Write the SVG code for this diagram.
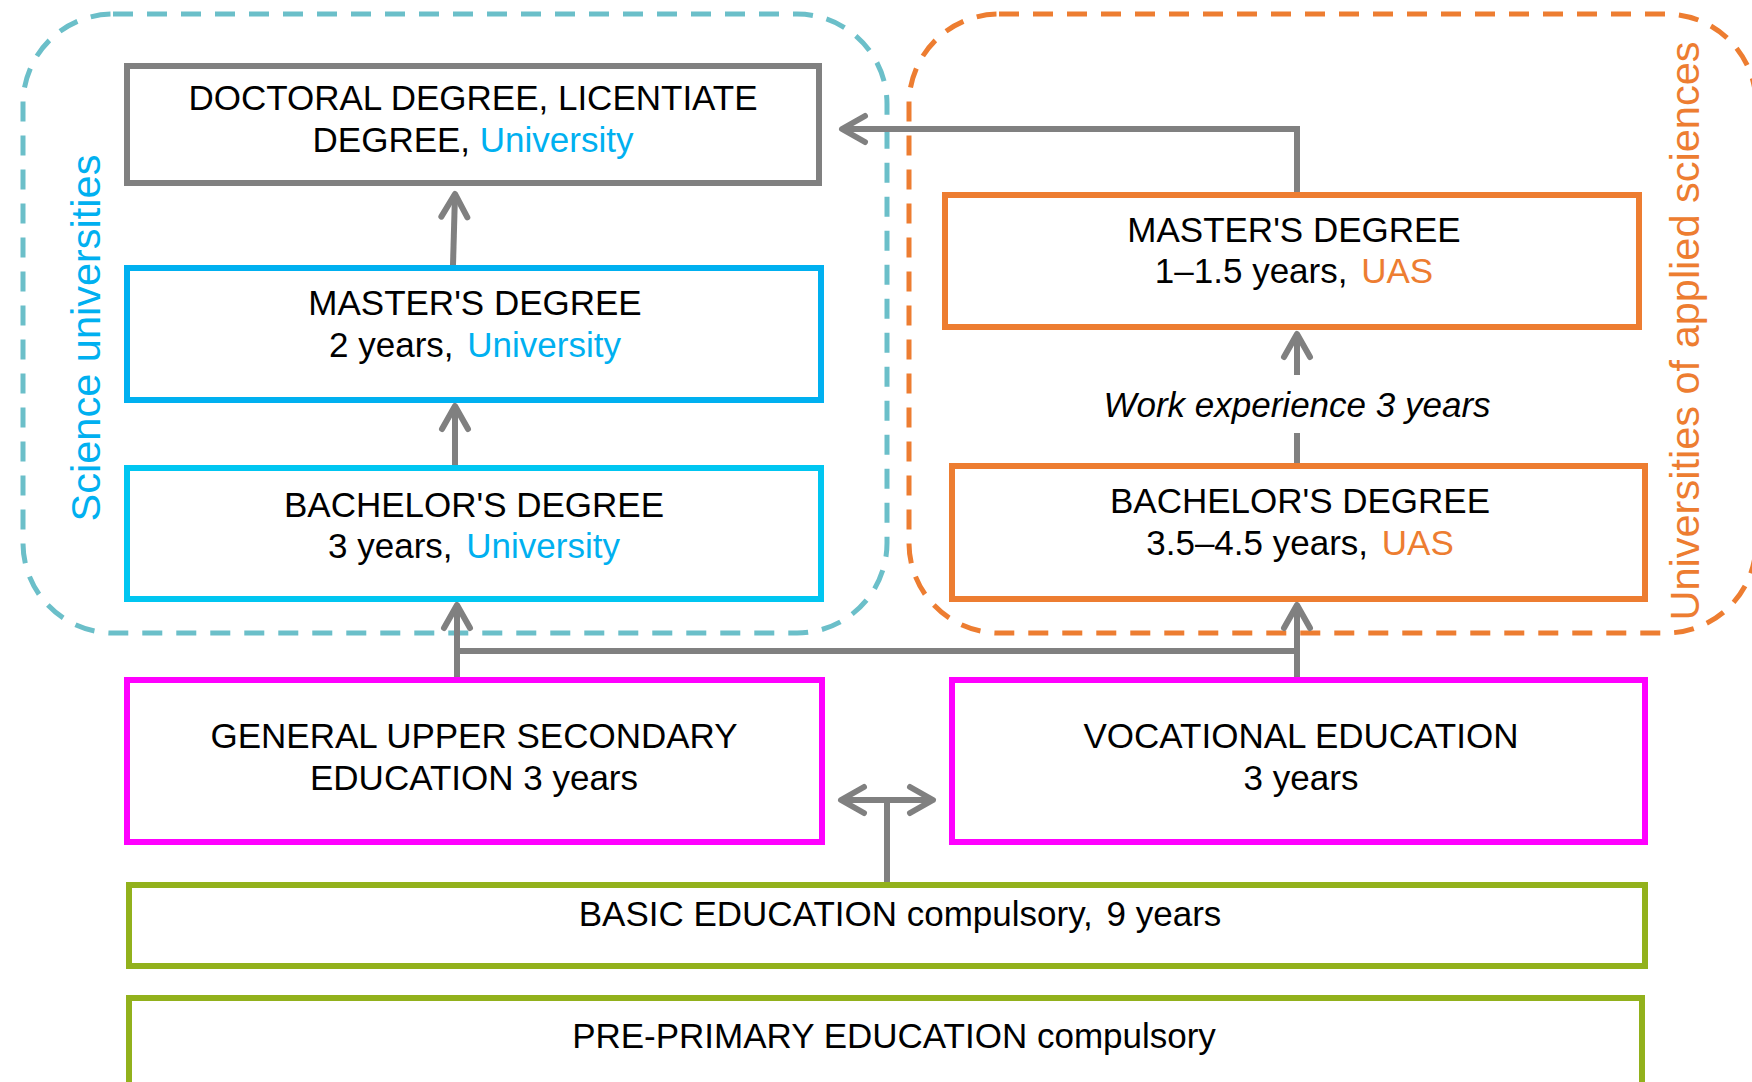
<svg xmlns="http://www.w3.org/2000/svg" width="1752" height="1082" viewBox="0 0 1752 1082">
<style>
text{font-family:"Liberation Sans",Arial,sans-serif;font-size:35px;fill:#000;text-anchor:middle}
.u{fill:#00B0F0}
.o{fill:#ED7D31}
.box{fill:#fff;stroke-width:6}
.gray{stroke:#808080}
.blue{stroke:#00B0F0}
.cyan{stroke:#00C6F1}
.orange{stroke:#ED7D31}
.mag{stroke:#FF00FF}
.green{stroke:#92B11C}
.cn{fill:none;stroke:#808080;stroke-width:6}
.lab{font-size:41.5px}
</style>
<defs>
<marker id="ah" viewBox="-30 -16 34 32" markerUnits="userSpaceOnUse" markerWidth="34" markerHeight="32" refX="0" refY="0" orient="auto-start-reverse" overflow="visible">
<path d="M-23 -13 L0 0 L-23 13" fill="none" stroke="#808080" stroke-width="6" stroke-linecap="round" stroke-linejoin="round"/>
</marker>
</defs>
<rect width="1752" height="1082" fill="#fff"/>
<g id="containers">
<rect id="science-universities" x="23" y="14" width="864" height="619" rx="90" fill="none" stroke="#6BBFC9" stroke-width="5" stroke-dasharray="20 14"/>
<rect id="applied-sciences" x="909" y="14" width="847" height="619" rx="90" fill="none" stroke="#ED7D31" stroke-width="5" stroke-dasharray="20 14"/>
<text class="lab u" transform="translate(100,338) rotate(-90)">Science universities</text>
<text class="lab o" transform="translate(1699,331) rotate(-90)" font-size="41">Universities of applied sciences</text>
</g>
<g id="connectors">
<path class="cn" d="M453 265 L455 194" marker-end="url(#ah)"/>
<path class="cn" d="M455 465 L455 406" marker-end="url(#ah)"/>
<path class="cn" d="M457 677 L457 605" marker-end="url(#ah)"/>
<path class="cn" d="M457 651 L1297 651"/>
<path class="cn" d="M1297 677 L1297 605" marker-end="url(#ah)"/>
<path class="cn" d="M1297 192 L1297 129 L842 129" marker-end="url(#ah)"/>
<path class="cn" d="M1297 375 L1297 334" marker-end="url(#ah)"/>
<path class="cn" d="M1297 433 L1297 463"/>
<path class="cn" d="M887 882 L887 800"/>
<path class="cn" d="M841 800 L933 800" marker-start="url(#ah)" marker-end="url(#ah)"/>
<text x="1297" y="417" font-style="italic">Work experience  3 years</text>
</g>
<g id="doctoral">
<rect class="box gray" x="127" y="66" width="692" height="117"/>
<text x="473" y="110">DOCTORAL DEGREE, LICENTIATE</text>
<text x="473" y="152">DEGREE, <tspan class="u">University</tspan></text>
</g>
<g id="master-university">
<rect class="box blue" x="127" y="268" width="694" height="132"/>
<text x="475" y="315">MASTER'S DEGREE</text>
<text x="475" y="357">2 years, <tspan class="u" dx="4">University</tspan></text>
</g>
<g id="bachelor-university">
<rect class="box cyan" x="127" y="468" width="694" height="131"/>
<text x="474" y="517">BACHELOR'S DEGREE</text>
<text x="474" y="558">3 years, <tspan class="u" dx="4">University</tspan></text>
</g>
<g id="master-uas">
<rect class="box orange" x="945" y="195" width="694" height="132"/>
<text x="1294" y="242">MASTER'S DEGREE</text>
<text x="1294" y="283">1–1.5 years, <tspan class="o" dx="4">UAS</tspan></text>
</g>
<g id="bachelor-uas">
<rect class="box orange" x="952" y="466" width="693" height="133"/>
<text x="1300" y="513">BACHELOR'S DEGREE</text>
<text x="1300" y="555">3.5–4.5 years, <tspan class="o" dx="4">UAS</tspan></text>
</g>
<g id="general-upper-secondary">
<rect class="box mag" x="127" y="680" width="695" height="162"/>
<text x="474" y="748">GENERAL UPPER SECONDARY</text>
<text x="474" y="790">EDUCATION 3 years</text>
</g>
<g id="vocational">
<rect class="box mag" x="952" y="680" width="693" height="162"/>
<text x="1301" y="748">VOCATIONAL EDUCATION</text>
<text x="1301" y="790">3 years</text>
</g>
<g id="basic-education">
<rect class="box green" x="129" y="885" width="1516" height="81"/>
<text x="900" y="926">BASIC EDUCATION compulsory, <tspan dx="4">9 years</tspan></text>
</g>
<g id="pre-primary">
<rect class="box green" x="129" y="998" width="1513" height="120"/>
<text x="894" y="1048">PRE-PRIMARY EDUCATION compulsory</text>
</g>
</svg>
